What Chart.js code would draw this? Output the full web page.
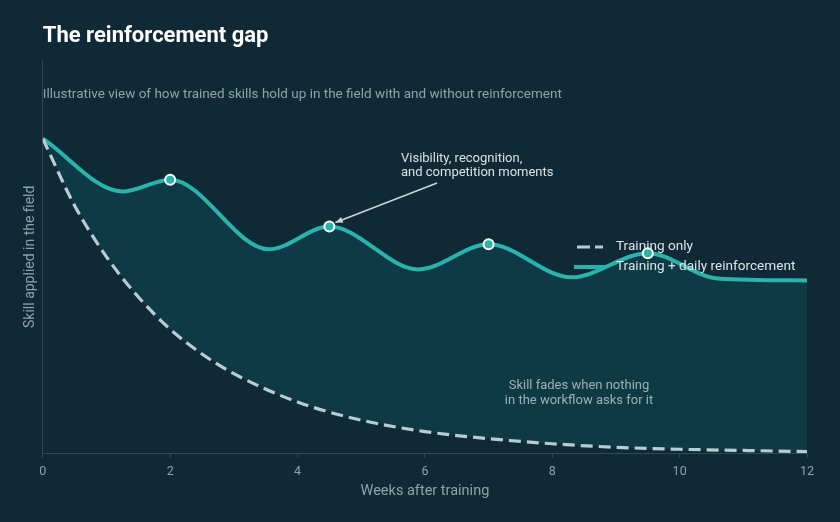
<!DOCTYPE html>
<html>
<head>
<meta charset="utf-8">
<script src="https://cdn.jsdelivr.net/npm/chart.js@4.4.1/dist/chart.umd.min.js"></script>
<style>
  html, body { margin: 0; padding: 0; background: #0f2937; }
  #wrap { width: 840px; height: 522px; position: relative; }
  canvas { display: block; }
</style>
</head>
<body>
<div id="wrap"><canvas id="c" width="840" height="522"></canvas></div>
<script>
// ---- data ----
const trainingWeeks  = [0, 0.5, 1, 1.5, 2, 2.5, 3, 4, 5, 6, 7, 8, 9, 10, 11, 12];
const trainingOnly   = [80, 63, 50, 39.8, 31.6, 25.3, 20.3, 13.1, 8.5, 5.6, 3.8, 2.5, 1.6, 1.1, 0.8, 0.5];

const reinforcedWeeks = [0, 1.25, 2, 3.55, 4.5, 5.9, 7, 8.3, 9.5, 10.6, 12];
const reinforced      = [80, 66.6, 69.6, 51.9, 57.7, 46.8, 53.2, 44.8, 50.9, 44.5, 44.0];

const momentWeeks = [2, 4.5, 7, 9.5];
const xTicks = [0, 2, 4, 6, 8, 10, 12];

const seriesLabels = ['Training only', 'Training + daily reinforcement'];
const titleText = 'The reinforcement gap';
const subtitleText = 'Illustrative view of how trained skills hold up in the field with and without reinforcement';
const calloutLines = ['Visibility, recognition,', 'and competition moments'];
const fadeLines = ['Skill fades when nothing', 'in the workflow asks for it'];

const BG = '#0f2937';
const TEAL = '#2ab3aa';
const DASH = '#b7ccd3';
const FILL = '#0e3a45';
const MUTED = '#8ea2aa';
const FONT = 'Roboto, "Noto Sans", sans-serif';

const toPts = (xs, ys) => xs.map((x, i) => ({ x, y: ys[i] }));

const bgPlugin = {
  id: 'bg',
  beforeDraw(chart) {
    const { ctx, width, height } = chart;
    ctx.save();
    ctx.fillStyle = BG;
    ctx.fillRect(0, 0, width, height);
    ctx.restore();
  }
};

const textPlugin = {
  id: 'texts',
  afterDatasetsDraw(chart) {
    const { ctx, chartArea, scales } = chart;
    const xs = scales.x, ys = scales.y;
    ctx.save();
    // title
    ctx.fillStyle = '#ffffff';
    ctx.font = 'bold 22px ' + FONT;
    ctx.textBaseline = 'alphabetic';
    ctx.textAlign = 'left';
    ctx.fillText(titleText, chartArea.left, 42);
    // subtitle
    ctx.fillStyle = MUTED;
    ctx.font = '13.5px ' + FONT;
    ctx.textBaseline = 'middle';
    ctx.fillText(subtitleText, chartArea.left, 95);

    // callout
    ctx.fillStyle = '#d6e1e4';
    ctx.font = '13px ' + FONT;
    ctx.fillText(calloutLines[0], 401, 159);
    ctx.fillText(calloutLines[1], 401, 173);
    // arrow to 4.5-week moment
    const idx = reinforcedWeeks.indexOf(4.5);
    const tx = xs.getPixelForValue(4.5) + 6;
    const ty = ys.getPixelForValue(reinforced[idx]) - 4;
    const sx = 437, sy = 183;
    ctx.strokeStyle = '#c9d5d9';
    ctx.lineWidth = 1.5;
    ctx.beginPath();
    ctx.moveTo(sx, sy);
    ctx.lineTo(tx, ty);
    ctx.stroke();
    const ang = Math.atan2(ty - sy, tx - sx);
    const ah = 8;
    ctx.fillStyle = '#c9d5d9';
    ctx.beginPath();
    ctx.moveTo(tx, ty);
    ctx.lineTo(tx - ah * Math.cos(ang - 0.4), ty - ah * Math.sin(ang - 0.4));
    ctx.lineTo(tx - ah * Math.cos(ang + 0.4), ty - ah * Math.sin(ang + 0.4));
    ctx.closePath();
    ctx.fill();

    // fade text
    ctx.fillStyle = '#9db0b7';
    ctx.textAlign = 'center';
    ctx.fillText(fadeLines[0], 579, 386);
    ctx.fillText(fadeLines[1], 579, 401);

    // legend
    const lx = chartArea.right - 230;
    const ly1 = chartArea.top + 187;
    const ly2 = ly1 + 20;
    ctx.textAlign = 'left';
    ctx.lineCap = 'butt';
    ctx.strokeStyle = DASH;
    ctx.lineWidth = 3;
    ctx.setLineDash([13, 5]);
    ctx.beginPath();
    ctx.moveTo(lx, ly1);
    ctx.lineTo(lx + 26, ly1);
    ctx.stroke();
    ctx.setLineDash([]);
    ctx.strokeStyle = TEAL;
    ctx.lineWidth = 4;
    ctx.beginPath();
    ctx.moveTo(lx - 3, ly2);
    ctx.lineTo(lx + 28, ly2);
    ctx.stroke();
    ctx.fillStyle = '#dbe5e8';
    ctx.font = '13.6px ' + FONT;
    ctx.fillText(seriesLabels[0], lx + 39, ly1);
    ctx.fillText(seriesLabels[1], lx + 39, ly2);
    ctx.restore();
  }
};

new Chart(document.getElementById('c'), {
  type: 'line',
  data: {
    datasets: [
      {
        label: seriesLabels[0],
        data: toPts(trainingWeeks, trainingOnly),
        borderColor: DASH,
        borderWidth: 3.2,
        borderDash: [12, 6],
        pointRadius: 0,
        cubicInterpolationMode: 'monotone',
        fill: false
      },
      {
        label: seriesLabels[1],
        data: toPts(reinforcedWeeks, reinforced),
        borderColor: TEAL,
        borderWidth: 4,
        backgroundColor: FILL,
        fill: { target: 0 },
        cubicInterpolationMode: 'monotone',
        pointRadius: (c) => momentWeeks.includes(reinforcedWeeks[c.dataIndex]) ? 5 : 0,
        pointBackgroundColor: TEAL,
        pointBorderColor: '#ffffff',
        pointBorderWidth: 2,
        pointHoverRadius: 0
      }
    ]
  },
  options: {
    responsive: false,
    animation: false,
    devicePixelRatio: 1,
    layout: { padding: { left: 18, right: 33, top: 60, bottom: 18 } },
    plugins: {
      legend: { display: false },
      tooltip: { enabled: false },
      title: { display: false }
    },
    scales: {
      x: {
        type: 'linear',
        min: 0, max: 12,
        afterBuildTicks: (axis) => { axis.ticks = xTicks.map(v => ({ value: v })); },
        ticks: { color: MUTED, font: { family: FONT, size: 12.5 }, padding: 7 },
        grid: { display: true, drawOnChartArea: false, drawTicks: true, tickLength: 4, color: '#2f4a57' },
        border: { display: true, color: '#2f4a57', width: 1 },
        title: { display: true, text: 'Weeks after training', color: MUTED, font: { family: FONT, size: 14.5 }, padding: { top: -4, bottom: 4 } }
      },
      y: {
        min: 0, max: 100,
        ticks: { display: false },
        grid: { display: false, drawTicks: false },
        border: { display: true, color: '#2f4a57', width: 1 },
        title: { display: true, text: 'Skill applied in the field', color: MUTED, font: { family: FONT, size: 14 }, padding: { top: 4, bottom: 4 } }
      }
    }
  },
  plugins: [bgPlugin, textPlugin]
});
</script>
</body>
</html>
